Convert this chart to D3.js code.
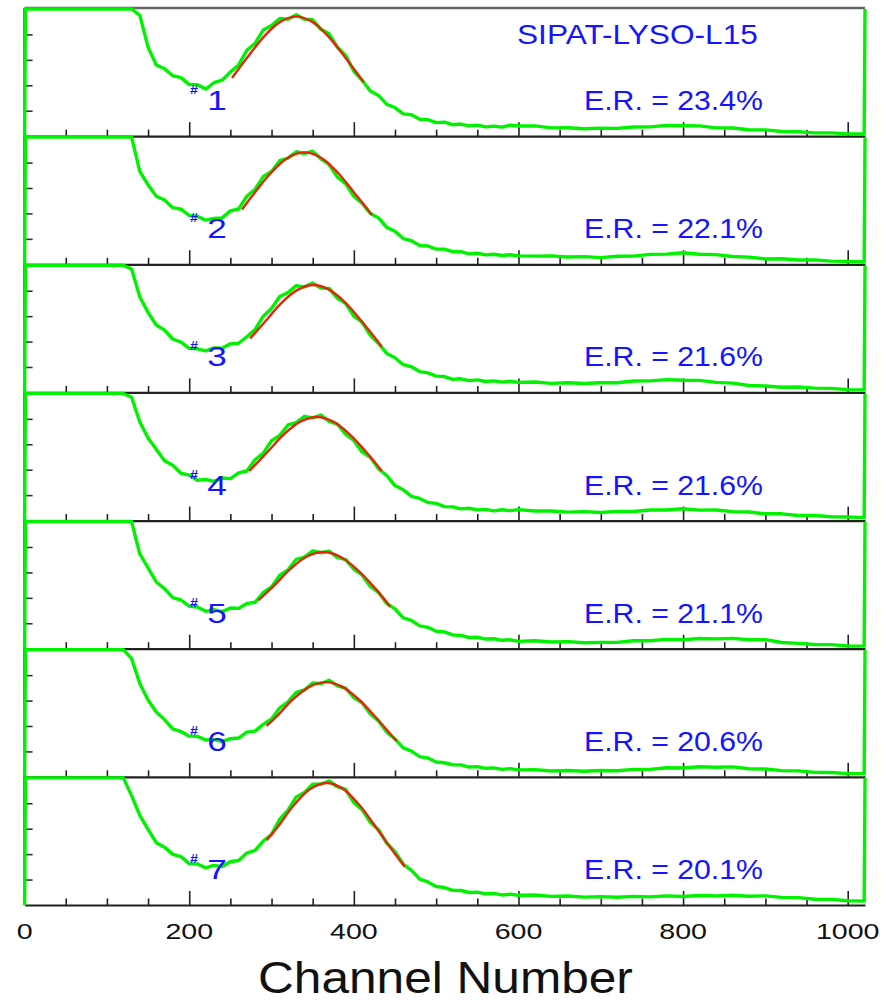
<!DOCTYPE html>
<html><head><meta charset="utf-8">
<script src="https://cdn.jsdelivr.net/npm/d3@7"></script>
<style>
body{margin:0;background:#fff}
svg{display:block}
text{font-family:"Liberation Sans",Arial,Helvetica,sans-serif}
</style>
</head><body>
<svg id="c" width="889" height="1003"></svg>
<script>
// ---------- data (y in % of panel height) ----------
const channels = [0,1,
 120,130,140,150,160,170,180,190,200,210,
 220,230,240,250,260,270,280,290,300,310,
 320,330,340,350,360,370,380,390,400,410,
 420,430,440,450,460,470,480,490,500,510,
 520,530,540,550,560,570,580,590,600,
 620,640,660,680,700,720,740,760,780,800,
 820,840,860,880,900,920,940,960,980,1000,
 1020,1021];

const spectrum1 = [0,100,
 100,100,95,70,56,53,47.5,46,40.5,40.5,
 37,42,44,50.5,56,67.5,73,83.5,87,92.5,
 92,95.5,92,91.5,84,80.5,70,63.5,51,44,
 35.5,32,25,22.5,17.5,16.8,13.3,13,10.6,11,
 9,9.5,8.1,8.7,7.3,7.9,7.1,8.7,8,
 8.1,6.5,6.6,5.8,6.3,6.1,7.2,7.3,8.5,8.2,
 8.1,6.5,6.4,5,4.9,3.7,3.5,2.6,2.6,1.8,
 1.8,100];
const spectrum2 = [0,100,
 100,100,73,62.5,53.5,50.5,44.5,43.3,38.5,37.8,
 34.7,36,36.5,42,43.5,53.5,59,69,73,81.5,
 83.5,88.5,87,89,83,78.5,68.5,63.5,53.5,48,
 40,36.5,29,26,20.2,18.5,14.8,14.4,11.9,11.9,
 9.9,9.9,8.2,8.7,7.4,7.9,6.9,7.5,6.6,
 6.4,6.6,5.7,6,5.2,6.3,6.4,7.8,8,9.1,
 7.9,7.6,6.1,5.6,4.2,4.4,3.4,3.5,2.5,2.3,
 1.8,100];
const spectrum3 = [0,100,
 100,97,75,63,53,49,42,39.5,34.7,34.3,
 32.7,35,34.7,38.2,38.7,43.8,49.5,60,66,75.5,
 78.5,84,83,86,82,81.8,74,70,60,55.2,
 45,38.5,30.7,27.3,21.8,20.2,16.4,15.4,12.8,12.5,
 10.3,10.7,9.3,9.9,8.6,9.1,8.1,8.8,7.9,
 8.2,7.1,7.6,7,7.6,7.6,9,9.1,10.1,9.6,
 9.5,7.9,7.3,5.4,5,4.1,4.3,3.4,3.2,2.2,
 2,100];
const spectrum4 = [0,100,
 100,97,77.5,65,56,47,43.5,37.2,35.8,31.7,
 32.3,30.8,33.5,33,37.5,39,47.8,53,62.8,67,
 75.2,77,82,80.8,83,78,75.8,68,63,54,
 49.7,40.7,35.3,27.5,24.2,19,17.4,14.2,13.5,11,
 10.8,9.2,9.7,8.4,8.8,7.6,8.5,7.8,8.6,
 7.5,7.5,6.6,7,6.3,7.2,7.1,8.3,8.3,9.3,
 8.2,8.3,7,6.7,5.3,5.3,4,4,3,2.8,
 2.3,100];
const spectrum5 = [0,100,
 100,100,74.5,63.5,52.5,47.3,40.2,38.3,33.4,32.8,
 29.4,30.8,29.2,32,31.7,35.5,36.5,44.2,48.5,57.8,
 62,70.3,72,77,75.5,76.8,71.8,70,62.5,58,
 49,44.2,35.6,31.3,24.3,22.2,17.9,16.8,13.7,13.2,
 10.8,10.5,8.8,9,7.6,7.8,6.6,7,5.8,
 6.2,5.3,5.6,4.7,5,5,6.3,6.3,7.3,7,
 8,7.7,8.1,7,7.1,4.9,4.2,3.3,3.2,2.1,
 2,100];
const spectrum6 = [0,100,
 100,93,73.5,60.5,51,45,37.7,35.6,32,31.8,
 29,29.5,27.8,30,30.5,35.2,36,41.3,45.5,54.3,
 59,66.5,68.3,73.8,73.2,76,71.5,69.8,62.3,58.3,
 49.5,44,35.2,29.8,22.8,20.2,15.9,14.8,11.7,11.1,
 9.5,9.4,7.7,8,6.7,7,5.9,6.5,5.5,
 5.7,4.6,5,4.4,5,4.8,5.9,5.9,7.1,7,
 7.9,7.5,7.8,6.4,6.2,4.9,4.7,3.5,3.4,2.5,
 2.5,100];
const spectrum7 = [0,100,
 100,86,70.5,59.5,49,45.5,39.8,38,32.5,32.2,
 29.2,31.2,30.2,34,35,40.8,43,50.3,55.5,67.5,
 74.5,85,88.5,95,95,97.5,93,91,80.5,75,
 65,59.2,48.5,42,32.2,27.3,20.4,18.1,14.5,13.7,
 11.5,11.4,9.8,10.1,8.8,9.1,7.9,8.5,7.6,
 7.9,6.8,7.1,6.2,6.6,6.1,6.8,6.4,7.2,6.7,
 7.5,7.1,7.7,6.9,7.2,6,5.8,4.5,4.4,3.3,
 3,100];

const fitChannels1 = [252,270,290,310,330,350,370,390,412];
const fitValues1   = [45.7,61.4,77.7,89.7,94,89.7,77.7,61.4,42.4];
const fitChannels2 = [264,280,300,320,340,360,380,400,422];
const fitValues2   = [43,56.7,72.4,83.8,88,83.8,72.4,56.7,39];
const fitChannels3 = [274,291,311,331,351,371,391,411,434];
const fitValues3   = [42.5,54.8,69.7,80.5,84.5,80.5,69.7,54.8,36];
const fitChannels4 = [273,295,315,335,355,375,395,415,434];
const fitValues4   = [39,53.9,67.8,77.8,81.5,77.8,67.8,53.9,39];
const fitChannels5 = [284,303,323,343,363,383,403,423,444];
const fitValues5   = [38,49.6,62.8,72.5,76,72.5,62.8,49.6,33];
const fitChannels6 = [294,306,326,346,366,386,406,426,452];
const fitValues6   = [40,47.3,60.9,70.8,74.5,70.8,60.9,47.3,28];
const fitChannels7 = [294,307,327,347,367,387,407,427,447,462];
const fitValues7   = [51,61,78.4,91.3,96,91.3,78.4,61,42.9,30];

const panelIds = ["1","2","3","4","5","6","7"];
const resolutions = ["23.4%","22.1%","21.6%","21.6%","21.1%","20.6%","20.1%"];
const xMajorTicks = [0,200,400,600,800,1000];
const xMinorTicks = [50,100,150,250,300,350,450,500,550,650,700,750,850,900,950];
const yTicks = [20,40,60,80];
const title = "SIPAT-LYSO-L15";
const xTitle = "Channel Number";

// ---------- drawing ----------
const spectra = [spectrum1,spectrum2,spectrum3,spectrum4,spectrum5,spectrum6,spectrum7];
const fits = [[fitChannels1,fitValues1],[fitChannels2,fitValues2],[fitChannels3,fitValues3],
  [fitChannels4,fitValues4],[fitChannels5,fitValues5],[fitChannels6,fitValues6],[fitChannels7,fitValues7]];

const L = 24.6, R = 865, T = 8, PH = 128.14;
const BLUE = "#1414ff", GREEN = "#00f200", RED = "#e2260e";
const svg = d3.select("#c");
const x = d3.scaleLinear().domain([0,1021]).range([L,R]);

function stretchText(parent, px, py, str, size, color, anchor, sx) {
  return parent.append("text")
    .attr("transform", `translate(${px},${py}) scale(${sx},1)`)
    .attr("text-anchor", anchor).attr("font-size", size).attr("fill", color).text(str);
}
function widthText(parent, px, py, str, size, color, width) {
  const t = parent.append("text").attr("font-size", size).attr("fill", color).text(str);
  const w = t.node().getComputedTextLength();
  t.attr("transform", `translate(${px},${py}) scale(${width / w},1)`);
  return t;
}

const bottomAll = T + 7 * PH;
svg.append("line").attr("x1",L).attr("x2",R).attr("y1",T).attr("y2",T)
  .attr("stroke","#666").attr("stroke-width",2.5);
svg.append("line").attr("x1",L-0.6).attr("x2",L-0.6).attr("y1",T).attr("y2",bottomAll)
  .attr("stroke","#444").attr("stroke-width",1.5);

spectra.forEach((spec, i) => {
  const top = T + i * PH, bottom = top + PH;
  const y = d3.scaleLinear().domain([0,100]).range([bottom, top + 1]).clamp(true);
  const g = svg.append("g");

  const ya = g.append("g").attr("transform",`translate(${L},0)`)
    .call(d3.axisRight(y).tickValues(yTicks).tickSize(8).tickFormat(""));
  ya.select(".domain").remove();
  ya.selectAll("line").attr("stroke","#333").attr("stroke-width",1.6);

  const xm = g.append("g").attr("transform",`translate(0,${bottom})`)
    .call(d3.axisBottom(x).tickValues(xMinorTicks).tickSize(-6.5).tickSizeOuter(0).tickFormat(""));
  xm.selectAll("line").attr("stroke","#222").attr("stroke-width",1.6);
  xm.select(".domain").remove();
  const xM = g.append("g").attr("transform",`translate(0,${bottom})`)
    .call(d3.axisBottom(x).tickValues(xMajorTicks).tickSize(-14).tickSizeOuter(0).tickFormat(""));
  xM.selectAll("line").attr("stroke","#222").attr("stroke-width",1.6);
  xM.select(".domain").attr("stroke","#222").attr("stroke-width",2.2);

  const pts = channels.map((c, k) => [c, spec[k]]);
  g.append("path").datum(pts)
    .attr("d", d3.line().x(d => x(d[0])).y(d => y(d[1])))
    .attr("fill","none").attr("stroke",GREEN).attr("stroke-width",3.4)
    .attr("stroke-linejoin","round");

  const [fc, fv] = fits[i];
  g.append("path").datum(fc.map((c,k) => [c, fv[k]]))
    .attr("d", d3.line().curve(d3.curveCatmullRom).x(d => x(d[0])).y(d => y(d[1])))
    .attr("fill","none").attr("stroke",RED).attr("stroke-width",2.4);

  stretchText(g, 190, bottom - 42, "#", 13, BLUE, "start", 1.1).attr("font-weight","bold");
  stretchText(g, 217, bottom - 26, panelIds[i], 27, BLUE, "middle", 1.3);
  widthText(g, 584, bottom - 26, "E.R. = " + resolutions[i], 28, BLUE, 179);
});

widthText(svg, 517, 44, title, 27, BLUE, 241);

xMajorTicks.forEach(v => {
  stretchText(svg, x(v), 939, String(v), 22, "#111", "middle", 1.3);
});
widthText(svg, 258, 993, xTitle, 45, "#111", 375);
</script>
</body></html>
